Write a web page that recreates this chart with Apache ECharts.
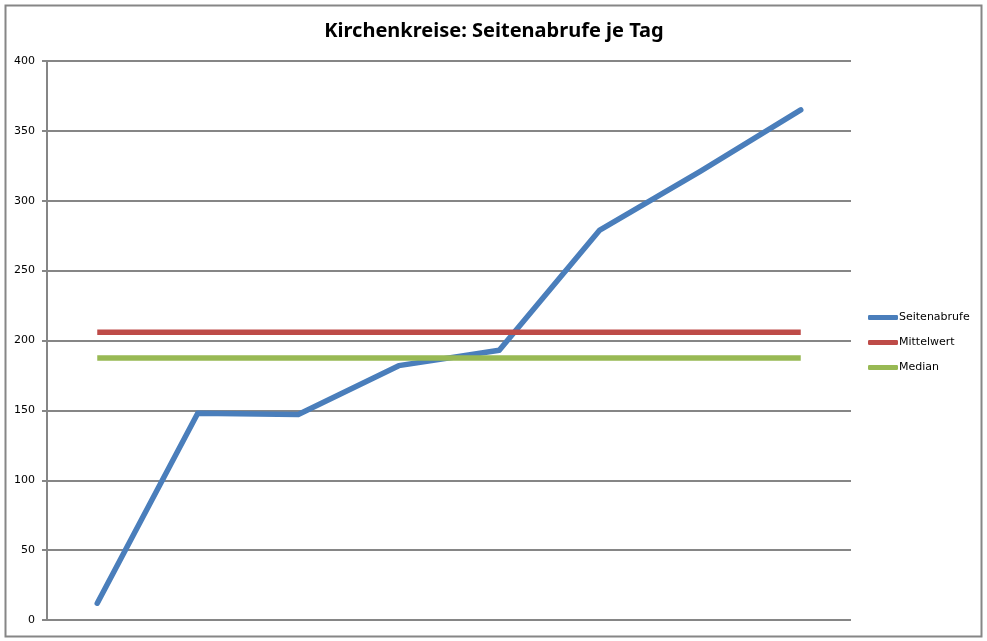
<!DOCTYPE html>
<html>
<head>
<meta charset="utf-8">
<script src="https://cdn.jsdelivr.net/npm/echarts@6/dist/echarts.min.js"></script>
<style>html,body{margin:0;padding:0;background:#fff}#c{width:987px;height:641px}</style>
</head>
<body>
<div id="c"></div>
<script>
const categories = ['1','2','3','4','5','6','7','8'];
const seitenabrufe = [12, 148, 147, 182, 193, 279, 321, 365];
const mittelwert = [205.9, 205.9, 205.9, 205.9, 205.9, 205.9, 205.9, 205.9];
const median = [187.5, 187.5, 187.5, 187.5, 187.5, 187.5, 187.5, 187.5];
const yTicks = [0, 50, 100, 150, 200, 250, 300, 350, 400];

const chart = echarts.init(document.getElementById('c'));
const gray = '#868686';
chart.setOption({
  animation: false,
  title: {
    text: 'Kirchenkreise: Seitenabrufe je Tag',
    left: 489, top: 16, textAlign: 'center',
    textStyle: {fontFamily: 'Noto Sans', fontWeight: 'bold', fontSize: 20, color: '#000'}
  },
  graphic: [{
    type: 'rect', shape: {x: 5.5, y: 5.5, width: 976, height: 631},
    style: {fill: 'none', stroke: gray, lineWidth: 2}, silent: true
  }],
  legend: {
    orient: 'vertical', left: 863, top: 307,
    itemWidth: 30, itemHeight: 5, itemGap: 14, icon: 'roundRect',
    textStyle: {fontFamily: 'DejaVu Sans', fontSize: 11, color: '#000', padding: [0,0,0,-4]},
    data: ['Seitenabrufe', 'Mittelwert', 'Median']
  },
  grid: {left: 47, right: 136, top: 61, bottom: 21, containLabel: false},
  xAxis: {
    type: 'category', data: categories, boundaryGap: true,
    axisLabel: {show: false}, axisTick: {show: false}, axisLine: {show: false}, splitLine: {show: false}
  },
  yAxis: {
    type: 'value', min: yTicks[0], max: yTicks[yTicks.length-1], interval: 50,
    axisLine: {show: true, lineStyle: {color: gray, width: 2}},
    axisTick: {show: true, length: 5, lineStyle: {color: gray, width: 2}},
    axisLabel: {fontFamily: 'DejaVu Sans', fontSize: 11, color: '#000', margin: 12},
    splitLine: {show: true, lineStyle: {color: gray, width: 2}}
  },
  series: [
    {name: 'Seitenabrufe', type: 'line', data: seitenabrufe, showSymbol: false, symbol: 'none',
     lineStyle: {color: '#4a7ebb', width: 5.5, cap: 'round', join: 'round'}, itemStyle: {color: '#4a7ebb'}},
    {name: 'Mittelwert', type: 'line', data: mittelwert, showSymbol: false, symbol: 'none',
     lineStyle: {color: '#be4b48', width: 5.5}, itemStyle: {color: '#be4b48'}},
    {name: 'Median', type: 'line', data: median, showSymbol: false, symbol: 'none',
     lineStyle: {color: '#98b954', width: 5.5}, itemStyle: {color: '#98b954'}}
  ]
});
</script>
</body>
</html>
